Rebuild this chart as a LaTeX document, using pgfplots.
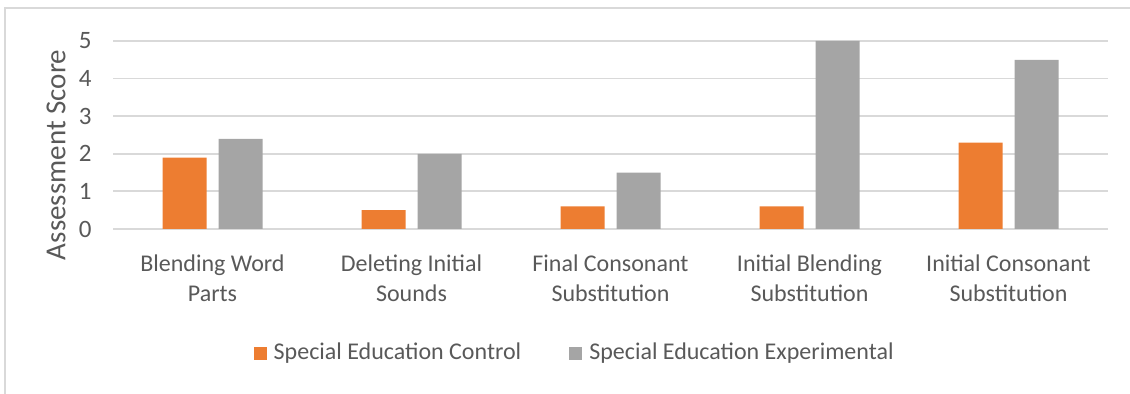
\documentclass[border=0pt]{standalone}
\usepackage{fontspec}
\setmainfont{Carlito}
\usepackage{pgfplots}
\pgfplotsset{compat=1.18}
\definecolor{cOrange}{HTML}{ED7D31}
\definecolor{cGray}{HTML}{A5A5A5}
\definecolor{cText}{HTML}{595959}
\definecolor{cGrid}{HTML}{D9D9D9}
\begin{document}
\begin{tikzpicture}[x=1pt,y=1pt]
\useasboundingbox (0,0) rectangle (565,-197);
\draw[cGrid, line width=1pt] (2.5,-197) -- (2.5,-4) -- (565,-4);
\begin{axis}[
  at={(56.5pt,-114.5pt)}, anchor=south west,
  scale only axis, width=497.5pt, height=94pt,
  ybar=6pt, bar width=22pt,
  xmin=-0.5, xmax=4.5, ymin=0, ymax=5,
  xtick=data,
  xticklabels={{Blending Word\\Parts},{Deleting Initial\\Sounds},{Final Consonant\\Substitution},{Initial Blending\\Substitution},{Initial Consonant\\Substitution}},
  ytick={0,1,2,3,4,5},
  ymajorgrids, grid style={cGrid, line width=0.9pt},
  axis line style={draw=none},
  major tick length=0pt,
  /pgf/number format/assume math mode=true,
  tick label style={text=cText},
  yticklabel style={font=\fontsize{12.5}{14}\selectfont, inner sep=0pt, anchor=east, xshift=-10.5pt},
  xticklabel style={font=\fontsize{12}{15.3}\selectfont, align=center, inner sep=0pt, anchor=north, yshift=-12.5pt},
  ylabel={Assessment Score},
  ylabel style={at={(rel axis cs:-0.0573,0.394)}, anchor=center, font=\fontsize{14.5}{16}\selectfont, text=cText},
  legend columns=2,
  legend style={at={(rel axis cs:0.465,-0.66)}, anchor=center, draw=none, fill=none,
    font=\fontsize{12}{14}\selectfont, text=cText,
    /tikz/every even column/.append style={column sep=22pt}},
  legend image code/.code={\fill[#1] (0pt,-3.25pt) rectangle (6.5pt,3.25pt);},
  legend cell align=left,
]
\addplot[fill=cOrange, draw=none] coordinates {(0,1.9) (1,0.5) (2,0.6) (3,0.6) (4,2.3)};
\addplot[fill=cGray, draw=none] coordinates {(0,2.4) (1,2.0) (2,1.5) (3,5.0) (4,4.5)};
\legend{\hspace{1.5pt}Special Education Control, \hspace{1.5pt}Special Education Experimental}
\end{axis}
\end{tikzpicture}
\end{document}
